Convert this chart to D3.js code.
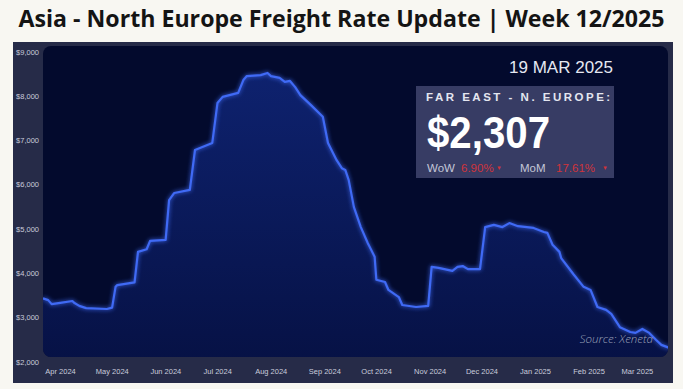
<!DOCTYPE html>
<html>
<head>
<meta charset="utf-8">
<title>Asia - North Europe Freight Rate</title>
<style>
  body { margin: 0; background: #f8f7f2; }
  svg { display: block; }
</style>
</head>
<body>
<div id="chart-area"></div>
<script src="https://cdn.jsdelivr.net/npm/d3@7/dist/d3.min.js"></script>
<script>

// data (date, USD per FEU)
const dates = ["2024-03-21","2024-03-24","2024-03-26","2024-03-31","2024-04-07","2024-04-08","2024-04-11","2024-04-15",
  "2024-04-27","2024-04-30","2024-05-02","2024-05-03","2024-05-13","2024-05-15","2024-05-20","2024-05-22","2024-05-31",
  "2024-06-02","2024-06-05","2024-06-14","2024-06-17","2024-06-27","2024-06-30","2024-07-03","2024-07-12","2024-07-15",
  "2024-07-17","2024-07-25","2024-07-29","2024-07-31","2024-08-05","2024-08-08","2024-08-11","2024-08-14","2024-08-17",
  "2024-08-23","2024-08-30","2024-09-02","2024-09-07","2024-09-10","2024-09-12","2024-09-14","2024-09-17","2024-09-21",
  "2024-09-25","2024-09-29","2024-09-30","2024-10-05","2024-10-07","2024-10-13","2024-10-15","2024-10-23","2024-10-30",
  "2024-11-01","2024-11-05","2024-11-13","2024-11-16","2024-11-19","2024-11-22","2024-11-29","2024-12-02","2024-12-07",
  "2024-12-12","2024-12-16","2024-12-21","2024-12-30","2025-01-05","2025-01-07","2025-01-10","2025-01-14","2025-01-15",
  "2025-01-22","2025-01-28","2025-02-01","2025-02-05","2025-02-10","2025-02-13","2025-02-18","2025-02-24","2025-02-27",
  "2025-03-03","2025-03-07","2025-03-11","2025-03-14","2025-03-19"]
const rates = [3430,3390,3300,3330,3370,3330,3260,3210,
  3190,3220,3690,3730,3790,4480,4540,4730,4750,
  5650,5810,5880,6780,6940,7840,7980,8070,8360,
  8450,8470,8520,8450,8410,8320,8340,8200,8020,
  7800,7530,6940,6550,6370,6330,6100,5490,5040,
  4680,4370,3850,3800,3620,3460,3280,3235,3260,
  4140,4120,4050,4140,4160,4090,4090,5040,5090,
  5040,5130,5060,5020,4930,4910,4640,4480,4340,
  3980,3690,3620,3235,3170,3080,2780,2670,2650,
  2740,2650,2490,2380,2307]

const yTicks = [2000, 3000, 4000, 5000, 6000, 7000, 8000, 9000]
const xTicks = ["2024-04-01","2024-05-01","2024-06-01","2024-07-01","2024-08-01","2024-09-01",
  "2024-10-01","2024-11-01","2024-12-01","2025-01-01","2025-02-01","2025-03-01"]

const titleText = "Asia - North Europe Freight Rate Update | Week 12/2025"
const dateText = "19 MAR 2025"
const routeText = "FAR EAST - N. EUROPE:"
const latestRate = 2307
const wow = "6.90%"
const mom = "17.61%"

const W = 683, H = 389
const PLOT = { LEFT: 43, TOP: 46, RIGHT: 668, BOTTOM: 357 }

const parse = d3.timeParse("%Y-%m-%d")
const data = dates.map((d, i) => ({ date: parse(d), rate: rates[i] }))

const svg = d3.select("#chart-area")
  .append("svg")
    .attr("width", W)
    .attr("height", H)

const defs = svg.append("defs")

const grad = defs.append("linearGradient")
  .attr("id", "areaFill")
  .attr("x1", 0).attr("y1", 0).attr("x2", 0).attr("y2", 1)
grad.append("stop").attr("offset", "0%").attr("stop-color", "#10267a")
grad.append("stop").attr("offset", "100%").attr("stop-color", "#07134a")

const glow = defs.append("filter")
  .attr("id", "glow")
  .attr("x", "-10%").attr("y", "-10%").attr("width", "120%").attr("height", "120%")
glow.append("feGaussianBlur").attr("stdDeviation", 2.2).attr("result", "blur")
const merge = glow.append("feMerge")
merge.append("feMergeNode").attr("in", "blur")
merge.append("feMergeNode").attr("in", "SourceGraphic")

defs.append("clipPath").attr("id", "plotClip")
  .append("rect")
    .attr("x", PLOT.LEFT).attr("y", PLOT.TOP)
    .attr("width", PLOT.RIGHT - PLOT.LEFT).attr("height", PLOT.BOTTOM - PLOT.TOP)
    .attr("rx", 8)

// title
svg.append("text")
  .attr("x", W / 2)
  .attr("y", 27)
  .attr("text-anchor", "middle")
  .attr("font-family", "'Open Sans', sans-serif")
  .attr("font-weight", 700)
  .attr("font-size", "23px")
  .attr("fill", "#141414")
  .attr("textLength", 646)
  .attr("lengthAdjust", "spacingAndGlyphs")
  .text(titleText)

// panel + plot background
svg.append("rect")
  .attr("x", 13).attr("y", 42)
  .attr("width", 660).attr("height", 341)
  .attr("fill", "#262b48")

svg.append("rect")
  .attr("x", PLOT.LEFT).attr("y", PLOT.TOP)
  .attr("width", PLOT.RIGHT - PLOT.LEFT).attr("height", PLOT.BOTTOM - PLOT.TOP)
  .attr("rx", 8)
  .attr("fill", "#030a2d")

// scales
const x = d3.scaleTime()
  .domain([parse("2024-03-21"), parse("2025-03-19")])
  .range([PLOT.LEFT, 670])

const y = d3.scaleLinear()
  .domain([2000, 9000])
  .range([361.7, 51.7])

// axes
const yAxis = d3.axisLeft(y)
  .tickValues(yTicks)
  .tickSize(0)
  .tickPadding(0)
  .tickFormat(d => "$" + d3.format(",")(d))

svg.append("g")
  .attr("transform", "translate(39, 0)")
  .call(yAxis)
  .call(g => g.select(".domain").remove())
  .selectAll("text")
    .attr("font-family", "'Liberation Sans', Arial, sans-serif")
    .attr("font-size", "7.5px")
    .attr("fill", "#c9ccdc")

const xAxis = d3.axisBottom(x)
  .tickValues(xTicks.map(parse))
  .tickSize(0)
  .tickPadding(0)
  .tickFormat(d3.timeFormat("%b %Y"))

svg.append("g")
  .attr("transform", "translate(-2, 369)")
  .call(xAxis)
  .call(g => g.select(".domain").remove())
  .selectAll("text")
    .attr("font-family", "'Liberation Sans', Arial, sans-serif")
    .attr("font-size", "7.5px")
    .attr("fill", "#c9ccdc")

// area + line
const plot = svg.append("g").attr("clip-path", "url(#plotClip)")

const area = d3.area()
  .x(d => x(d.date))
  .y0(PLOT.BOTTOM)
  .y1(d => y(d.rate))

const line = d3.line()
  .x(d => x(d.date))
  .y(d => y(d.rate))

plot.append("path")
  .datum(data)
  .attr("d", area)
  .attr("fill", "url(#areaFill)")
  .attr("opacity", 0.85)

plot.append("path")
  .datum(data)
  .attr("d", line)
  .attr("fill", "none")
  .attr("stroke", "#3f6af5")
  .attr("stroke-width", 2.2)
  .attr("stroke-linejoin", "round")
  .attr("filter", "url(#glow)")

// source note
svg.append("text")
  .attr("x", 653)
  .attr("y", 343)
  .attr("text-anchor", "end")
  .attr("font-family", "'Open Sans', sans-serif")
  .attr("font-style", "italic")
  .attr("font-weight", 300)
  .attr("font-size", "11.5px")
  .attr("fill", "#9ea3bb")
  .text("Source: Xeneta")

// date + info box
svg.append("text")
  .attr("x", 613)
  .attr("y", 73)
  .attr("text-anchor", "end")
  .attr("font-family", "'Liberation Sans', Arial, sans-serif")
  .attr("font-size", "17px")
  .attr("fill", "#e6e8f2")
  .text(dateText)

const box = svg.append("g").attr("transform", "translate(416, 86)")

box.append("rect")
  .attr("width", 198)
  .attr("height", 92)
  .attr("fill", "#373c64")

box.append("text")
  .attr("x", 10)
  .attr("y", 15)
  .attr("font-family", "'Liberation Sans', Arial, sans-serif")
  .attr("font-weight", 700)
  .attr("font-size", "11.5px")
  .attr("letter-spacing", "2.5px")
  .attr("fill", "#e4e6f0")
  .text(routeText)

box.append("text")
  .attr("x", 11)
  .attr("y", 62)
  .attr("font-family", "'Liberation Sans', Arial, sans-serif")
  .attr("font-weight", 700)
  .attr("font-size", "44px")
  .attr("fill", "#ffffff")
  .attr("textLength", 123)
  .attr("lengthAdjust", "spacingAndGlyphs")
  .text("$" + d3.format(",")(latestRate))

// WoW / MoM line, each piece placed on its own
const stats = [
  { t: "WoW", x: 11, c: "#c4c7d8", s: 11.5 },
  { t: wow, x: 45, c: "#d0343c", s: 11.5 },
  { t: "\u25BC", x: 80, c: "#d0343c", s: 6 },
  { t: "MoM", x: 104, c: "#c4c7d8", s: 11.5 },
  { t: mom, x: 140, c: "#d0343c", s: 11.5 },
  { t: "\u25BC", x: 186, c: "#d0343c", s: 6 }
]
box.selectAll("text.stat")
  .data(stats).enter()
  .append("text")
    .attr("class", "stat")
    .attr("x", d => d.x)
    .attr("y", d => d.s < 8 ? 84 : 86)
    .attr("font-family", "'Liberation Sans', Arial, sans-serif")
    .attr("font-size", d => d.s + "px")
    .attr("fill", d => d.c)
    .text(d => d.t)

</script>
</body>
</html>
